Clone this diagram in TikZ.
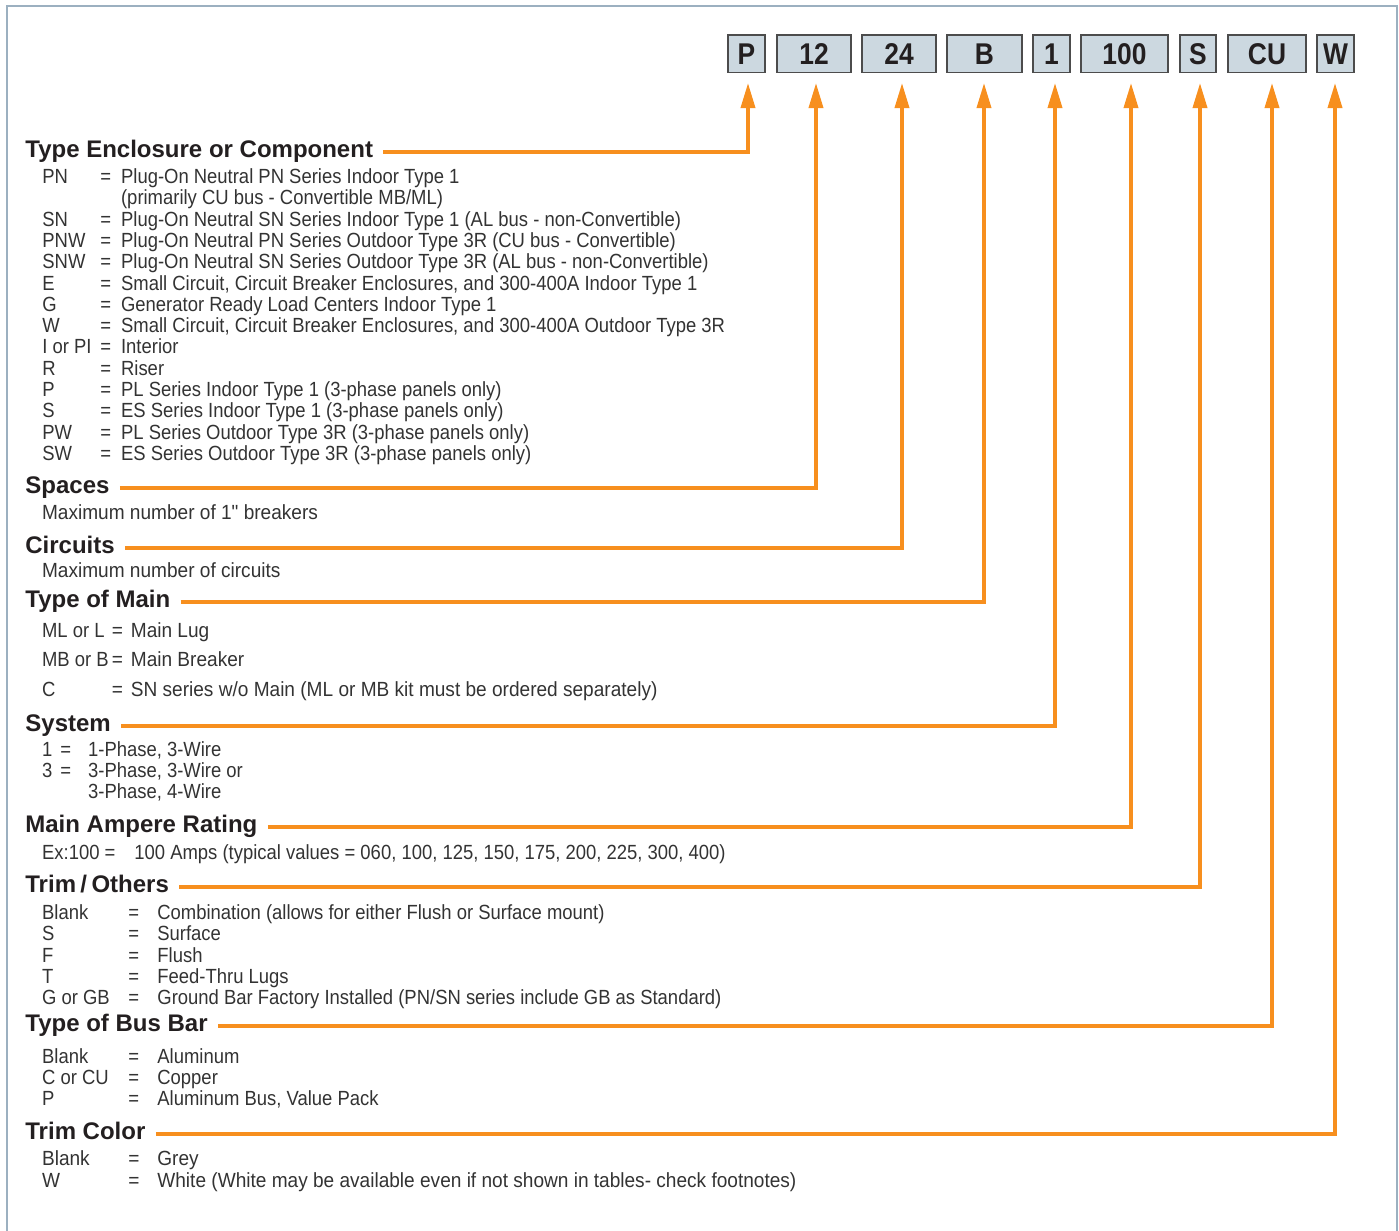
\documentclass[tikz,border=0pt]{standalone}
\usepackage{fontspec}
\setmainfont{Liberation Sans}
\newfontfamily\bodyfont[FakeStretch=0.9]{Liberation Sans}
\newfontfamily\bodywfont[FakeStretch=0.93]{Liberation Sans}
\newfontfamily\boxfont[FakeStretch=0.88]{Liberation Sans Bold}
\usetikzlibrary{arrows.meta}
\definecolor{orng}{RGB}{247,143,30}
\definecolor{boxfill}{RGB}{204,216,224}
\definecolor{framecol}{RGB}{156,176,192}
\definecolor{ink}{RGB}{35,31,32}
\definecolor{txt}{RGB}{51,51,51}
\tikzset{
    codebox/.style={draw=black!70, line width=.75pt, fill=boxfill, inner sep=0pt,
        minimum height=18.75pt, text=ink, font=\boxfont\fontsize{15}{15}\selectfont},
    head/.style={anchor=base west, inner sep=0pt, text=ink,
        font=\bfseries\fontsize{12}{12}\selectfont},
    body/.style={anchor=base west, inner sep=0pt, text=txt,
        font=\bodyfont\fontsize{10.25}{11}\selectfont},
    bodyw/.style={body, font=\bodywfont\fontsize{10.25}{11}\selectfont},
    leader/.style={draw=orng, line width=1.8pt, -{Triangle[width=7pt,length=12.5pt]}}
}

\begin{document}
\begin{tikzpicture}[x=.5pt, y=-.5pt]
    \useasboundingbox (0, 0) rectangle (1399, 1231);
    \draw[framecol, line width=1.2pt] (7, 1231) -- (7, 6) -- (1397, 6) -- (1397, 1231);
    % code boxes, arrow tips below them
    \foreach \lbl/\xa/\xb/\ax in {P/728/765/748, 12/777/851/816, 24/862/936/902,
        B/947/1022/984, 1/1033/1070/1055, 100/1081/1168/1131, S/1180/1216/1200,
        CU/1228/1306/1272, W/1317/1354/1335} {
        \node[codebox, minimum width={(\xb-\xa)*.5pt}] (b\lbl) at ({(\xa+\xb)/2}, 53.75) {\lbl};
        \coordinate (t\lbl) at (\ax, 83);
    }
    % headings
    \node[head] (hTEC) at (25, 157) {Type Enclosure or Component};
    \node[head] (hSpc) at (25, 493.5) {Spaces};
    \node[head] (hCir) at (25, 553) {Circuits};
    \node[head] (hTOM) at (25, 607.5) {Type of Main};
    \node[head] (hSys) at (25, 731.5) {System};
    \node[head] (hMAR) at (25, 832) {Main Ampere Rating};
    \node[head] (hTrm) at (25, 892) {Trim\kern2.2pt/\kern2.2pt Others};
    \node[head] (hBus) at (25, 1031) {Type of Bus Bar};
    \node[head] (hCol) at (25, 1139.5) {Trim Color};
    % leaders
    \draw[leader] ([xshift=5pt]hTEC.mid east) -| (tP);
    \draw[leader] ([xshift=5pt]hSpc.mid east) -| (t12);
    \draw[leader] ([xshift=5pt]hCir.mid east) -| (t24);
    \draw[leader] ([xshift=5pt]hTOM.mid east) -| (tB);
    \draw[leader] ([xshift=5pt]hSys.mid east) -| (t1);
    \draw[leader] ([xshift=5pt]hMAR.mid east) -| (t100);
    \draw[leader] ([xshift=5pt]hTrm.mid east) -| (tS);
    \draw[leader] ([xshift=5pt]hBus.mid east) -| (tCU);
    \draw[leader] ([xshift=5pt]hCol.mid east) -| (tW);
    % type enclosure or component
    \foreach \code/\eq/\desc [count=\i from 0] in {
        PN/=/Plug-On Neutral PN Series Indoor Type 1,
        {}/{}/{(primarily CU bus - Convertible MB/ML)},
        SN/=/{Plug-On Neutral SN Series Indoor Type 1 (AL bus - non-Convertible)},
        PNW/=/{Plug-On Neutral PN Series Outdoor Type 3R (CU bus - Convertible)},
        SNW/=/{Plug-On Neutral SN Series Outdoor Type 3R (AL bus - non-Convertible)},
        E/=/{Small Circuit, Circuit Breaker Enclosures, and 300-400A Indoor Type 1},
        G/=/Generator Ready Load Centers Indoor Type 1,
        W/=/{Small Circuit, Circuit Breaker Enclosures, and 300-400A Outdoor Type 3R},
        {I or PI}/=/Interior,
        R/=/Riser,
        P/=/{PL Series Indoor Type 1 (3-phase panels only)},
        S/=/{ES Series Indoor Type 1 (3-phase panels only)},
        PW/=/{PL Series Outdoor Type 3R (3-phase panels only)},
        SW/=/{ES Series Outdoor Type 3R (3-phase panels only)}} {
        \node[body] (tecC\i) at (42, 183.5+21.3*\i) {\code};
        \node[body] (tecE\i) at (100, 183.5+21.3*\i) {\eq};
        \node[body] (tecD\i) at (120.7, 183.5+21.3*\i) {\desc};
    }
    % spaces, circuits
    \node[bodyw] (spcD) at (41.7, 519.3) {Maximum number of 1" breakers};
    \node[bodyw] (cirD) at (41.7, 577.7) {Maximum number of circuits};
    % type of main
    \foreach \code/\eq/\desc [count=\i from 0] in {
        {ML or L}/=/Main Lug,
        {MB or B}/=/Main Breaker,
        C/=/{SN series w/o Main (ML or MB kit must be ordered separately)}} {
        \node[body] (tomC\i) at (41.7, 637.3+29.35*\i) {\code};
        \node[bodyw] (tomE\i) at (111.5, 637.3+29.35*\i) {\eq};
        \node[bodyw] (tomD\i) at (130.5, 637.3+29.35*\i) {\desc};
    }
    % system
    \foreach \code/\eq/\desc [count=\i from 0] in {
        1/=/{1-Phase, 3-Wire},
        3/=/{3-Phase, 3-Wire or},
        {}/{}/{3-Phase, 4-Wire}} {
        \node[body] (sysC\i) at (41.7, 756+21.2*\i) {\code};
        \node[body] (sysE\i) at (60, 756+21.2*\i) {\eq};
        \node[body] (sysD\i) at (87.7, 756+21.2*\i) {\desc};
    }
    % main ampere rating
    \node[body] (marC) at (41.7, 859.5) {Ex:100 =};
    \node[body] (marD) at (134, 859.5) {100 Amps (typical values = 060, 100, 125, 150, 175, 200, 225, 300, 400)};
    % trim / others
    \foreach \code/\eq/\desc [count=\i from 0] in {
        Blank/=/Combination (allows for either Flush or Surface mount),
        S/=/Surface,
        F/=/Flush,
        T/=/Feed-Thru Lugs,
        {G or GB}/=/{Ground Bar Factory Installed (PN/SN series include GB as Standard)}} {
        \node[body] (trmC\i) at (41.7, 919.5+21.25*\i) {\code};
        \node[body] (trmE\i) at (128, 919.5+21.25*\i) {\eq};
        \node[body] (trmD\i) at (157, 919.5+21.25*\i) {\desc};
    }
    % type of bus bar
    \foreach \code/\eq/\desc [count=\i from 0] in {
        Blank/=/Aluminum,
        {C or CU}/=/Copper,
        P/=/{Aluminum Bus, Value Pack}} {
        \node[body] (busC\i) at (41.7, 1063.5+21*\i) {\code};
        \node[body] (busE\i) at (128, 1063.5+21*\i) {\eq};
        \node[body] (busD\i) at (157, 1063.5+21*\i) {\desc};
    }
    % trim color
    \foreach \code/\eq/\desc [count=\i from 0] in {
        Blank/=/Grey,
        W/=/{White (White may be available even if not shown in tables- check footnotes)}} {
        \node[bodyw] (colC\i) at (41.7, 1165+22*\i) {\code};
        \node[bodyw] (colE\i) at (128, 1165+22*\i) {\eq};
        \node[bodyw] (colD\i) at (157, 1165+22*\i) {\desc};
    }
\end{tikzpicture}
\end{document}
